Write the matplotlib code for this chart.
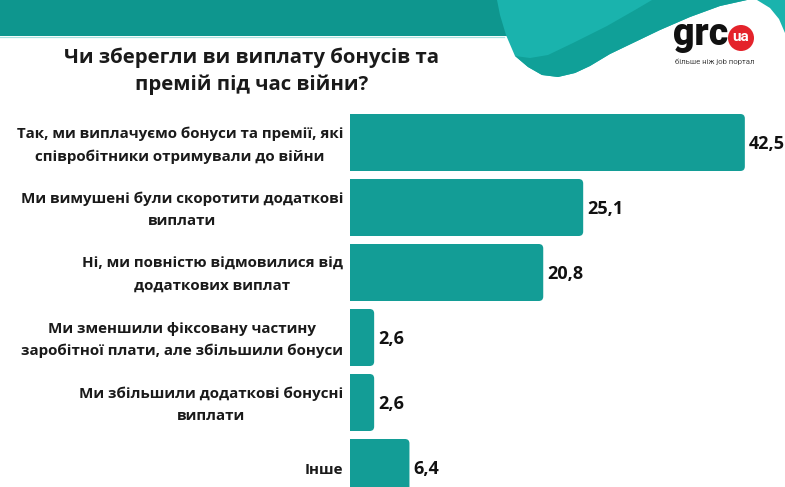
import matplotlib
matplotlib.use("Agg")
import matplotlib.pyplot as plt
from matplotlib.patches import FancyBboxPatch, Polygon, Circle
import numpy as np

categories = [
    "Так, ми виплачуємо бонуси та премії, які\nспівробітники отримували до війни",
    "Ми вимушені були скоротити додаткові\nвиплати",
    "Ні, ми повністю відмовилися від\nдодаткових виплат",
    "Ми зменшили фіксовану частину\nзаробітної плати, але збільшили бонуси",
    "Ми збільшили додаткові бонусні\nвиплати",
    "Інше",
]
values = [42.5, 25.1, 20.8, 2.6, 2.6, 6.4]
title = "Чи зберегли ви виплату бонусів та\nпремій під час війни?"

plt.rcParams['font.family'] = ['Open Sans', 'DejaVu Sans']

W, H = 785, 487
fig = plt.figure(figsize=(W / 100, H / 100), dpi=100)
fig.patch.set_facecolor('white')

# background decoration axes in pixel coordinates
bg = fig.add_axes([0, 0, 1, 1], zorder=0)
bg.set_xlim(0, W)
bg.set_ylim(H, 0)
bg.axis('off')

band = '#0e968e'
light = '#1ab3ad'
mid = '#10a098'

bg.add_patch(Polygon([(0, 0), (520, 0), (520, 36), (0, 36)], closed=True, fc=band, ec='none'))
bg.plot([0, 504], [36.6, 36.6], color='#a8e2e0', lw=0.9)

outer_curve = [(747, 0), (720, 6), (690, 17), (660, 30), (635, 42), (610, 54), (590, 66),
               (575, 73), (558, 77), (542, 75), (528, 67), (515, 56)]
wave = [(497, 0)] + outer_curve + [(506, 35), (500, 15)]
bg.add_patch(Polygon(wave, closed=True, fc=light, ec='none'))
inner_curve = [(515, 56), (530, 58), (548, 55), (573, 43), (607, 26), (635, 10), (652, 0)]
crescent = inner_curve + outer_curve
bg.add_patch(Polygon(crescent, closed=True, fc=mid, ec='none'))
bg.add_patch(Polygon([(757, 0), (770, 8), (779, 19), (785, 33), (785, 0)], closed=True,
                     fc=light, ec='none'))

# title
bg.text(252, 71, title, ha='center', va='center', fontsize=14.7, fontweight='bold',
        color='#1a1a1a', linespacing=1.45)

# logo
bg.text(728, 45, 'grc', ha='right', va='baseline', fontsize=27, fontweight='black',
        color='#111111', family=['Roboto', 'DejaVu Sans'])
bg.add_patch(Circle((741, 38), 13, fc='#e4232b', ec='none'))
bg.text(741, 37, 'ua', ha='center', va='center', fontsize=11, fontweight='bold', color='white',
        family=['Roboto', 'DejaVu Sans'])
bg.text(715, 62, 'більше ніж job портал', ha='center', va='center', fontsize=5.6,
        color='#444444', family=['Roboto', 'DejaVu Sans'])

# main axes
top_px, bot_px = 105, H
ax = fig.add_axes([350 / W, 0, 432 / W, (bot_px - top_px) / H], zorder=1)
ax.patch.set_alpha(0)
xmax = 46.5
ax.set_xlim(0, xmax)
ypx_per_unit = 65.0
y0_px = 142.5
ax.set_ylim((bot_px - y0_px) / ypx_per_unit, (top_px - y0_px) / ypx_per_unit)
ax.axis('off')

bar_color = '#139d96'
bar_h = 57 / 65
xpx_per_unit = 432 / xmax
r_px = 4.5
r_x = r_px / xpx_per_unit
aspect = xpx_per_unit / ypx_per_unit
ypos = np.arange(len(values))
for y, v in zip(ypos, values):
    p = FancyBboxPatch((-1, y - bar_h / 2), v + 1, bar_h,
                       boxstyle=f"round,pad=0,rounding_size={r_x}",
                       mutation_aspect=aspect, fc=bar_color, ec='none')
    ax.add_patch(p)
    ax.text(v + 0.4, y + 0.02, f"{v:.1f}".replace('.', ','), ha='left', va='center',
            fontsize=13, fontweight='bold', color='#111111', clip_on=False)
    ax.text(-0.75, y + 0.04, categories[y], ha='right', va='center', multialignment='center',
            fontsize=10.9, fontweight='bold', color='#1a1a1a', linespacing=1.72,
            clip_on=False)

fig.savefig('out.png', dpi=100, facecolor='white')
